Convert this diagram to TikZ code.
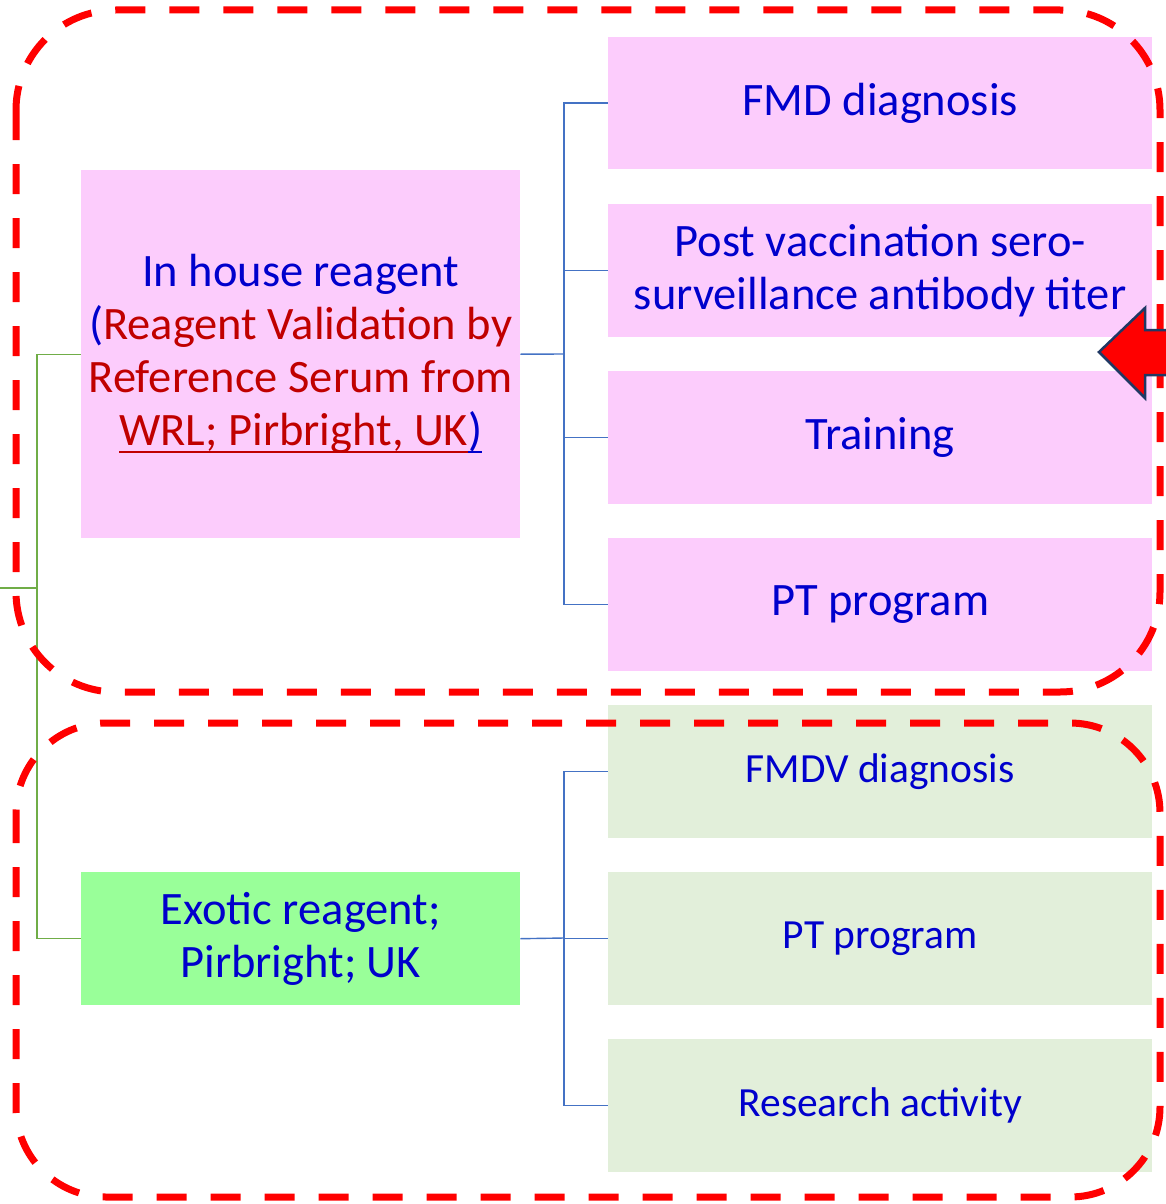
\documentclass[tikz,border=0pt]{standalone}
\usepackage{fontspec}
\setmainfont{Carlito}
\newcommand\myul[1]{\setbox0\hbox{#1}\rlap{\rule[-7pt]{\wd0}{2.2pt}}\box0}
\definecolor{txtblue}{HTML}{0000CC}
\definecolor{txtred}{HTML}{C00000}
\definecolor{pinkbox}{HTML}{FCCCFC}
\definecolor{greenbox}{HTML}{99FF99}
\definecolor{palegreen}{HTML}{E2EFDA}
\definecolor{linkblue}{HTML}{4472C4}
\definecolor{linkgreen}{HTML}{70AD47}
\definecolor{arrowedge}{HTML}{203864}
\tikzset{
  x=1pt,y=-1pt,
  box/.style={draw=none, minimum width=#1, inner sep=0pt, anchor=north west, align=center, text=txtblue},
  bigtxt/.style={font=\fontsize{46.5}{53}\selectfont},
  smalltxt/.style={font=\fontsize{41.5}{48}\selectfont},
  blink/.style={draw=linkblue, line width=1.4pt},
  glink/.style={draw=linkgreen, line width=1.4pt},
  groupframe/.style={draw=red, line width=7pt, dash pattern=on 30pt off 24pt, rounded corners=100pt},
}
\begin{document}
\begin{tikzpicture}
\useasboundingbox (0,0) rectangle (1166,1204);
% left boxes
\node[box=439pt, minimum height=368pt, fill=pinkbox, bigtxt] (inhouse) at (81,170)
  {In house reagent\\(\textcolor{txtred}{Reagent Validation by}\\\textcolor{txtred}{Reference Serum from}\\\textcolor{txtred}{\myul{WRL; Pirbright, UK}}\textcolor{txtblue}{\myul{)}}};
\node[box=439pt, minimum height=133pt, fill=greenbox, bigtxt] (exotic) at (81,872)
  {Exotic reagent;\\Pirbright; UK};
% right pink boxes
\node[box=544pt, minimum height=132pt, fill=pinkbox, bigtxt] (fmd) at (608,37) {FMD diagnosis};
\node[box=544pt, minimum height=133pt, fill=pinkbox, bigtxt] (post) at (608,204) {Post vaccination sero-\\surveillance antibody titer};
\node[box=544pt, minimum height=133pt, fill=pinkbox, bigtxt] (training) at (608,371) {Training};
\node[box=544pt, minimum height=133pt, fill=pinkbox, bigtxt] (pt1) at (608,538) {PT program};
% right green boxes
\node[box=544pt, minimum height=133pt, fill=palegreen, smalltxt] (fmdv) at (608,705) {FMDV diagnosis};
\node[box=544pt, minimum height=133pt, fill=palegreen, smalltxt] (pt2) at (608,872) {PT program};
\node[box=544pt, minimum height=133pt, fill=palegreen, smalltxt] (research) at (608,1039) {Research activity};
% connectors
\coordinate (root) at (0,588);
\coordinate (trunk) at (37,588);
\draw[glink] (root) -- (trunk);
\draw[glink] (trunk) |- (inhouse.west);
\draw[glink] (trunk) |- (exotic.west);
\coordinate (bus1) at (564,354);
\draw[blink] (inhouse.east) -- (bus1);
\foreach \n in {fmd,post,training,pt1} \draw[blink] (bus1) |- (\n.west);
\coordinate (bus2) at (564,938);
\draw[blink] (exotic.east) -- (bus2);
\foreach \n in {fmdv,pt2,research} \draw[blink] (bus2) |- (\n.west);
% group frames
\draw[groupframe] (16,10) rectangle (1160,692);
\draw[groupframe, rounded corners=90pt] (16,723) rectangle (1160,1197);
% arrow
\draw[fill=red, draw=arrowedge, line width=2.5pt, line join=miter]
  (1099,352) -- (1145,308) -- (1145,330) -- (1175,330) -- (1175,375) -- (1145,375) -- (1145,398) -- cycle;
\end{tikzpicture}
\end{document}
